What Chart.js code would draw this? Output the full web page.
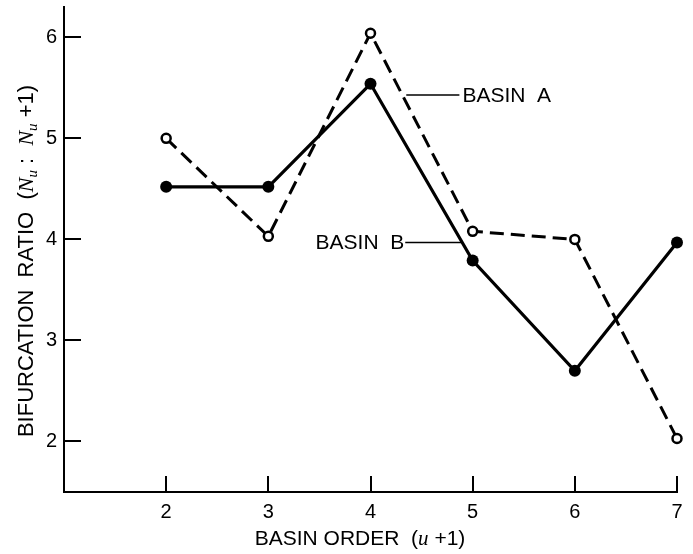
<!DOCTYPE html>
<html>
<head>
<meta charset="utf-8">
<script src="https://cdn.jsdelivr.net/npm/chart.js@4"></script>
<style>
  html, body { margin: 0; padding: 0; background: #fff; }
  #wrap { width: 693px; height: 554px; }
</style>
</head>
<body>
<div id="wrap"><canvas id="ratioChart"></canvas></div>
<script>
// basin order (u+1) and bifurcation ratios
const basinOrder = [2, 3, 4, 5, 6, 7];
const basinA = [5.00, 4.03, 6.04, 4.08, 4.00, 2.03];
const basinB = [4.52, 4.52, 5.54, 3.79, 2.70, 3.97];

const xTicks = [2, 3, 4, 5, 6, 7];
const yTicks = [2, 3, 4, 5, 6];

const FONT = '"Liberation Sans", Arial, sans-serif';
const SERIF = '"Liberation Serif", "DejaVu Serif", serif';

/*
   callouts: leader line drawn in data units, text beside it
*/
const callouts = [
    { text: 'BASIN  A', y: 5.43, x0: 4.35, x1: 4.87, side: 'right' },
    { text: 'BASIN  B', y: 3.97, x0: 4.34, x1: 4.90, side: 'left' }
];

// axis titles as runs of text so the symbols can be italic / subscript
const xTitle = [
    { t: 'BASIN ORDER  (', f: '21px ' + FONT },
    { t: 'u', f: 'italic 21px ' + SERIF },
    { t: ' +1)', f: '21px ' + FONT }
];
const yTitle = [
    { t: 'BIFURCATION  RATIO  (', f: '22px ' + FONT },
    { t: 'N', f: 'italic 22px ' + SERIF },
    { t: 'u', f: 'italic 15px ' + SERIF, dy: 4 },
    { t: ' :  ', f: '22px ' + FONT },
    { t: 'N', f: 'italic 22px ' + SERIF },
    { t: 'u', f: 'italic 15px ' + SERIF, dy: 4 },
    { t: ' +1)', f: '22px ' + FONT }
];

function runWidth(ctx, runs) {
    let w = 0;
    runs.forEach(r => { ctx.font = r.f; w += ctx.measureText(r.t).width; });
    return w;
}

function drawRuns(ctx, runs, x, y) {
    ctx.textAlign = 'left';
    ctx.textBaseline = 'alphabetic';
    runs.forEach(r => {
        ctx.font = r.f;
        ctx.fillText(r.t, x, y + (r.dy || 0));
        x += ctx.measureText(r.t).width;
    });
}

const extras = {
    id: 'extras',
    afterDraw(chart) {
        const ctx = chart.ctx;
        const xs = chart.scales.x, ys = chart.scales.y;
        const area = chart.chartArea;
        ctx.save();
        ctx.strokeStyle = '#000';
        ctx.fillStyle = '#000';

        // inward tick marks
        ctx.lineWidth = 2;
        ctx.beginPath();
        xTicks.forEach(v => {
            const px = Math.round(xs.getPixelForValue(v));
            ctx.moveTo(px, area.bottom);
            ctx.lineTo(px, area.bottom - 16);
        });
        yTicks.forEach(v => {
            const py = Math.round(ys.getPixelForValue(v));
            ctx.moveTo(area.left, py);
            ctx.lineTo(area.left + 17, py);
        });
        ctx.stroke();

        // callouts
        ctx.lineWidth = 1.5;
        ctx.font = '21px ' + FONT;
        ctx.textBaseline = 'middle';
        callouts.forEach(c => {
            const py = ys.getPixelForValue(c.y);
            const a = xs.getPixelForValue(c.x0), b = xs.getPixelForValue(c.x1);
            ctx.beginPath();
            ctx.moveTo(a, py);
            ctx.lineTo(b, py);
            ctx.stroke();
            if (c.side === 'right') {
                ctx.textAlign = 'left';
                ctx.fillText(c.text, b + 3, py + 1);
            } else {
                ctx.textAlign = 'right';
                ctx.fillText(c.text, a - 1, py + 1);
            }
        });

        // x title
        const wx = runWidth(ctx, xTitle);
        drawRuns(ctx, xTitle, 360 - wx / 2, 545);

        // y title, rotated
        const wy = runWidth(ctx, yTitle);
        ctx.translate(33, 261);
        ctx.rotate(-Math.PI / 2);
        drawRuns(ctx, yTitle, -wy / 2, 0);
        ctx.restore();
    }
};

new Chart(document.getElementById('ratioChart'), {
    type: 'line',
    data: {
        datasets: [
            {
                label: 'Basin A',
                data: basinOrder.map((x, i) => ({ x: x, y: basinA[i] })),
                borderColor: '#000',
                borderWidth: 3,
                borderDash: [14, 7],
                pointRadius: 4.5,
                pointBorderWidth: 2.5,
                pointBackgroundColor: '#fff',
                pointBorderColor: '#000',
                tension: 0,
                clip: false
            },
            {
                label: 'Basin B',
                data: basinOrder.map((x, i) => ({ x: x, y: basinB[i] })),
                borderColor: '#000',
                borderWidth: 3.2,
                pointRadius: 6,
                pointBorderWidth: 0,
                pointBackgroundColor: '#000',
                tension: 0,
                clip: false
            }
        ]
    },
    options: {
        responsive: true,
        maintainAspectRatio: false,
        animation: false,
        layout: { padding: { top: 6, right: 16, left: 0, bottom: 0 } },
        plugins: {
            legend: { display: false },
            tooltip: { enabled: false }
        },
        scales: {
            x: {
                type: 'linear',
                min: 1,
                max: 7,
                afterBuildTicks: s => { s.ticks = xTicks.map(v => ({ value: v })); },
                afterFit: s => { s.height = 62; s.paddingLeft = 0; s.paddingRight = 0; },
                grid: { display: false, drawTicks: false },
                border: { display: true, color: '#000', width: 2 },
                ticks: {
                    color: '#000',
                    padding: 8,
                    maxRotation: 0,
                    font: { family: FONT, size: 20 }
                }
            },
            y: {
                min: 1.5,
                max: 6.3,
                afterBuildTicks: s => { s.ticks = yTicks.map(v => ({ value: v })); },
                afterFit: s => { s.width = 64; s.paddingTop = 0; s.paddingBottom = 0; },
                grid: { display: false, drawTicks: false },
                border: { display: true, color: '#000', width: 2 },
                ticks: {
                    color: '#000',
                    padding: 7,
                    font: { family: FONT, size: 20 }
                }
            }
        }
    },
    plugins: [extras]
});
</script>
</body>
</html>
